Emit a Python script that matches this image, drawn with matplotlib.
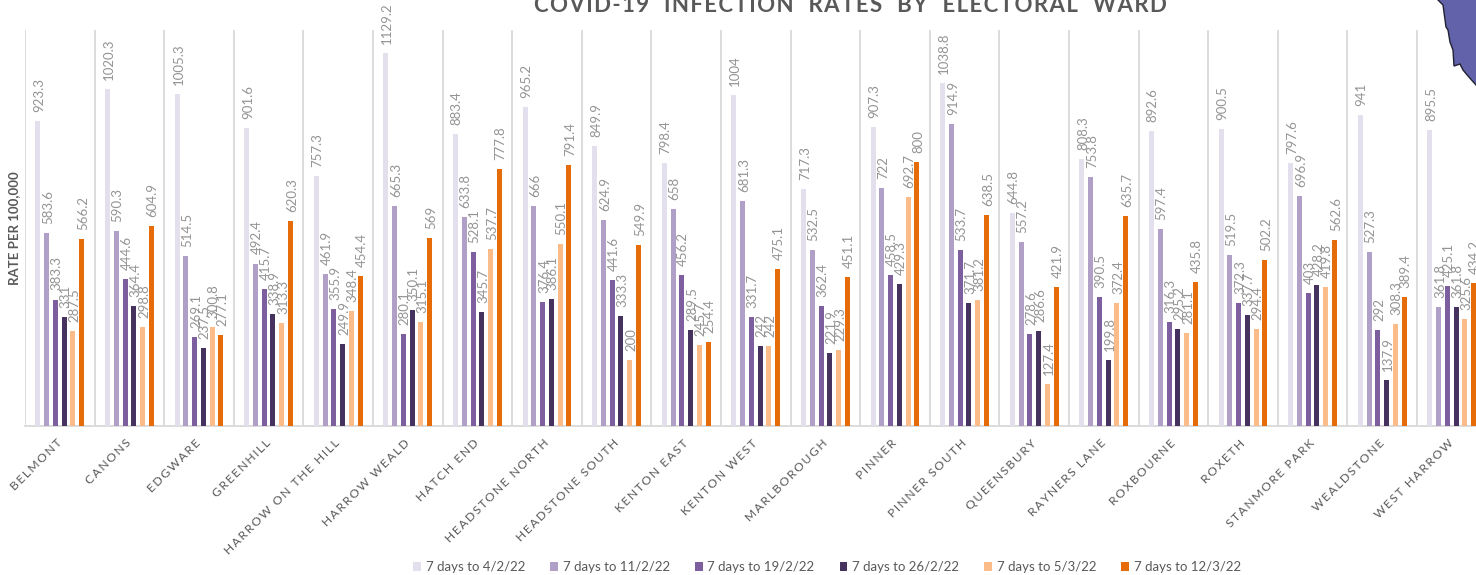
import numpy as np
import matplotlib
matplotlib.use('Agg')
import matplotlib.pyplot as plt
from matplotlib.patches import Polygon

plt.rcParams['font.family'] = ['Lato', 'DejaVu Sans']

wards = ['BELMONT', 'CANONS', 'EDGWARE', 'GREENHILL', 'HARROW ON THE HILL', 'HARROW WEALD',
         'HATCH END', 'HEADSTONE NORTH', 'HEADSTONE SOUTH', 'KENTON EAST', 'KENTON WEST',
         'MARLBOROUGH', 'PINNER', 'PINNER SOUTH', 'QUEENSBURY', 'RAYNERS LANE', 'ROXBOURNE',
         'ROXETH', 'STANMORE PARK', 'WEALDSTONE', 'WEST HARROW']

week_labels = ['7 days to 4/2/22', '7 days to 11/2/22', '7 days to 19/2/22',
               '7 days to 26/2/22', '7 days to 5/3/22', '7 days to 12/3/22']

feb_04 = [923.3, 1020.3, 1005.3, 901.6, 757.3, 1129.2, 883.4, 965.2, 849.9, 798.4, 1004,
          717.3, 907.3, 1038.8, 644.8, 808.3, 892.6, 900.5, 797.6, 941, 895.5]
feb_11 = [583.6, 590.3, 514.5, 492.4, 461.9, 665.3, 633.8, 666, 624.9, 658, 681.3,
          532.5, 722, 914.9, 557.2, 753.8, 597.4, 519.5, 696.9, 527.3, 361.8]
feb_19 = [383.3, 444.6, 269.1, 415.7, 355.9, 280.1, 528.1, 376.4, 441.6, 456.2, 331.7,
          362.4, 458.5, 533.7, 278.6, 390.5, 316.3, 372.3, 403, 292, 425.1]
feb_26 = [331, 364.4, 237.5, 338.9, 249.9, 350.1, 345.7, 386.1, 333.3, 289.5, 242,
          221.9, 429.3, 371.7, 286.6, 199.8, 295.2, 337.7, 428.2, 137.9, 361.8]
mar_05 = [287.5, 298.8, 300.8, 313.3, 348.4, 315.1, 537.7, 550.1, 200, 245.7, 242,
          229.3, 692.7, 381.2, 127.4, 372.4, 281.1, 294.4, 419.8, 308.3, 325.6]
mar_12 = [566.2, 604.9, 277.1, 620.3, 454.4, 569, 777.8, 791.4, 549.9, 254.4, 475.1,
          451.1, 800, 638.5, 421.9, 635.7, 435.8, 502.2, 562.6, 389.4, 434.2]

series = [feb_04, feb_11, feb_19, feb_26, mar_05, mar_12]
colors = ['#e3dfec', '#b09fc6', '#7d5fa0', '#46325e', '#fbbc8a', '#e66c0a']

W, H = 1476, 575
GREY = '#595959'


def spaced(s, gap='\u2009'):
    # thin spaces to open up the capitals
    return gap.join(s)


fig = plt.figure(figsize=(W / 100, H / 100), dpi=100)
# the last ward runs off the right edge of the page
ax = fig.add_axes([25 / W, (H - 426) / H, 69.6 * 21 / W, 396 / H])

x = np.arange(len(wards))
step = 0.126
width = 0.072
for i, vals in enumerate(series):
    bars = ax.bar(x + (i - 2.5) * step, vals, width, color=colors[i], label=week_labels[i], zorder=3)
    labels = ax.bar_label(bars, fmt='%g', rotation=90, padding=6.5, fontsize=9.5, color='#949494', zorder=4)
    for lab in labels:
        lab.xyann = (1, 6.5)

ax.set_xlim(-0.5, len(wards) - 0.5)
ax.set_ylim(0, 1200)
ax.set_yticks([])
ax.set_xticks(x)
ax.set_xticklabels([spaced(w) for w in wards], rotation=45, ha='right', va='center',
                   rotation_mode='anchor', fontsize=8.7, color=GREY)
ax.tick_params(axis='x', which='major', length=0, pad=11)

# separators between the wards
ax.set_xticks(np.arange(-0.5, len(wards)), minor=True)
ax.tick_params(axis='x', which='minor', length=0)
ax.grid(which='minor', axis='x', color='#d9d9d9', lw=1.3, zorder=0)

for side in ['top', 'right', 'left']:
    ax.spines[side].set_visible(False)
ax.spines['bottom'].set_color('#d9d9d9')
ax.spines['bottom'].set_linewidth(1.3)

fig.text(14 / W, (H - 228) / H, 'RATE PER 100,000', rotation=90, ha='center', va='center',
         fontsize=9.5, fontweight='bold', color=GREY)

# title sits hard against the top of the page
fig.text(850 / W, (H - 12.5) / H, spaced('COVID-19  INFECTION  RATES  BY  ELECTORAL  WARD', '\u200a'),
         ha='center', va='baseline', fontsize=16, fontweight='bold', color=GREY)

fig.legend(loc='center', bbox_to_anchor=(827 / W, (H - 567) / H), ncol=6, frameon=False,
           fontsize=9.5, labelcolor=GREY, handlelength=0.6, handleheight=0.6,
           handletextpad=0.35, columnspacing=1.9)

# corner of the borough map
map_outline = [(1438, 0), (1443, 5), (1446, 27), (1448, 30), (1450, 42), (1453, 50), (1454, 66),
               (1460, 64), (1463, 70), (1468, 76), (1476, 85), (1490, 105), (1490, -5), (1438, -5)]
fig.add_artist(Polygon([(px / W, (H - py) / H) for px, py in map_outline], closed=True,
                       transform=fig.transFigure, facecolor='#6262aa', edgecolor='#202030', lw=1))

fig.savefig('out.png', dpi=100)
